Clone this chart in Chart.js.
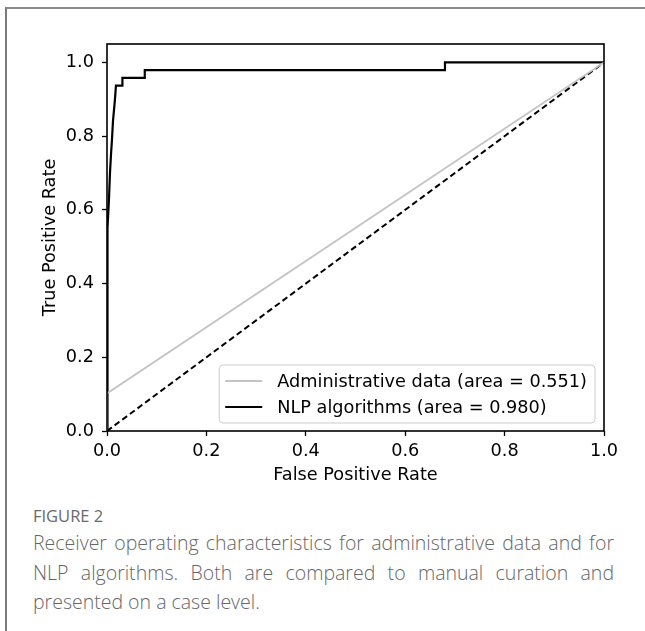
<!DOCTYPE html>
<html>
<head>
<meta charset="utf-8">
<script src="https://cdn.jsdelivr.net/npm/chart.js@4.4.1/dist/chart.umd.min.js"></script>
<style>
  html, body { margin: 0; padding: 0; background: #fff; }
  body { width: 645px; height: 631px; position: relative; overflow: hidden; }
  #frame { position: absolute; left: 5px; top: 7px; width: 660px; height: 660px;
           border-left: 2px solid #7a7a7a; border-top: 2px solid #8a8a8a; }
  #wrap { position: absolute; left: 0; top: 0; width: 645px; height: 500px; }
  #caption { position: absolute; left: 33px; top: 504px; width: 581px;
             font-family: "Open Sans", sans-serif; color: #666; }
  #caption .fig { font-size: 16.5px; line-height: 24px; color: #6a6a6a; }
  #caption .txt { font-size: 19.5px; line-height: 29.5px; text-align: justify; margin-top: 0px; font-weight: 300; }
</style>
</head>
<body>
<div id="frame"></div>
<div id="wrap"><canvas id="c" width="645" height="500"></canvas></div>
<div id="caption">
  <div class="fig">FIGURE 2</div>
  <div class="txt">Receiver operating characteristics for administrative data and for NLP algorithms. Both are compared to manual curation and presented on a case level.</div>
</div>
<script>
// ---- data ----
const seriesNames = ["Administrative data (area = 0.551)", "NLP algorithms (area = 0.980)"];
const adminFpr = [0, 0, 1];
const adminTpr = [0, 0.102, 1];
const nlpFpr = [0, 0, 0.002, 0.004, 0.006, 0.008, 0.010, 0.012, 0.014, 0.016, 0.018, 0.031, 0.031, 0.076, 0.076, 0.68, 0.68, 1];
const nlpTpr = [0, 0.51, 0.55, 0.63, 0.70, 0.75, 0.79, 0.84, 0.87, 0.90, 0.937, 0.937, 0.958, 0.958, 0.979, 0.979, 1.0, 1.0];
const chanceFpr = [0, 1];
const chanceTpr = [0, 1];
const xTicks = [0.0, 0.2, 0.4, 0.6, 0.8, 1.0];
const yTicks = [0.0, 0.2, 0.4, 0.6, 0.8, 1.0];
const xTitle = "False Positive Rate";
const yTitle = "True Positive Rate";

const toPts = (xs, ys) => xs.map((x, i) => ({ x: x, y: ys[i] }));
const FONT = "'DejaVu Sans', sans-serif";
const FS = 17.7;

const frameAndLegend = {
  id: 'frameAndLegend',
  afterDatasetsDraw(chart) {
    const { ctx, chartArea: a } = chart;
    ctx.save();
    ctx.strokeStyle = '#000';
    ctx.lineWidth = 1.6;
    ctx.strokeRect(a.left, a.top, a.right - a.left, a.bottom - a.top);
    // legend
    const items = chart.data.datasets.filter(d => d.inLegend);
    ctx.font = FS + "px " + FONT;
    let tw = 0;
    items.forEach(d => { tw = Math.max(tw, ctx.measureText(d.label).width); });
    const padL = 6, sample = 37, gap = 15, padR = 8, rowH = 26, padV = 16;
    const w = padL + sample + gap + tw + padR;
    const h = padV * 2 + rowH * (items.length - 1);
    const right = a.right - 9, bottom = a.bottom - 8;
    const left = right - w, top = bottom - h;
    const r = 4;
    ctx.beginPath();
    ctx.moveTo(left + r, top);
    ctx.arcTo(right, top, right, bottom, r);
    ctx.arcTo(right, bottom, left, bottom, r);
    ctx.arcTo(left, bottom, left, top, r);
    ctx.arcTo(left, top, right, top, r);
    ctx.closePath();
    ctx.fillStyle = 'rgba(255,255,255,0.8)';
    ctx.fill();
    ctx.strokeStyle = '#cccccc';
    ctx.lineWidth = 1;
    ctx.stroke();
    items.forEach((d, i) => {
      const y = top + padV + i * rowH;
      ctx.beginPath();
      ctx.strokeStyle = d.borderColor;
      ctx.lineWidth = d.borderWidth;
      ctx.setLineDash([]);
      ctx.moveTo(left + padL, y);
      ctx.lineTo(left + padL + sample, y);
      ctx.stroke();
      ctx.fillStyle = '#000';
      ctx.textBaseline = 'middle';
      ctx.textAlign = 'left';
      ctx.fillText(d.label, left + padL + sample + gap, y + 1);
    });
    ctx.restore();
  }
};

new Chart(document.getElementById('c'), {
  type: 'scatter',
  data: {
    datasets: [
      { label: seriesNames[0], data: toPts(adminFpr, adminTpr), showLine: true, borderColor: '#c4c4c4',
        borderWidth: 1.8, pointRadius: 0, tension: 0, inLegend: true },
      { label: seriesNames[1], data: toPts(nlpFpr, nlpTpr), showLine: true, borderColor: '#000000',
        borderWidth: 2.2, pointRadius: 0, tension: 0, inLegend: true },
      { label: 'chance', data: toPts(chanceFpr, chanceTpr), showLine: true, borderColor: '#000000',
        borderWidth: 2, borderDash: [6, 3.5], pointRadius: 0, tension: 0, inLegend: false }
    ]
  },
  options: {
    responsive: false,
    animation: false,
    layout: { padding: { left: 0, top: 44, right: 41, bottom: 0 } },
    plugins: { legend: { display: false }, tooltip: { enabled: false } },
    scales: {
      x: {
        type: 'linear', min: 0, max: 1,
        afterBuildTicks: s => { s.ticks = xTicks.map(v => ({ value: v })); },
        afterFit: s => { s.height = 69; },
        border: { display: false },
        grid: { drawOnChartArea: false, drawTicks: true, tickLength: 5, color: '#000', tickWidth: 1.3 },
        ticks: { color: '#000', font: { family: FONT, size: FS }, padding: 5, maxRotation: 0,
                 callback: v => Number(v).toFixed(1) },
        title: { display: true, text: xTitle, color: '#000', font: { family: FONT, size: FS },
                 padding: { top: 0, bottom: 14 } }
      },
      y: {
        type: 'linear', min: 0, max: 1.05,
        afterBuildTicks: s => { s.ticks = yTicks.map(v => ({ value: v })); },
        afterFit: s => { s.width = 107; },
        border: { display: false },
        grid: { drawOnChartArea: false, drawTicks: true, tickLength: 5, color: '#000', tickWidth: 1.3 },
        ticks: { color: '#000', font: { family: FONT, size: FS }, padding: 8,
                 callback: v => Number(v).toFixed(1) },
        title: { display: true, text: yTitle, color: '#000', font: { family: FONT, size: FS },
                 padding: { top: 40, bottom: 0 } }
      }
    }
  },
  plugins: [frameAndLegend]
});
</script>
</body>
</html>
